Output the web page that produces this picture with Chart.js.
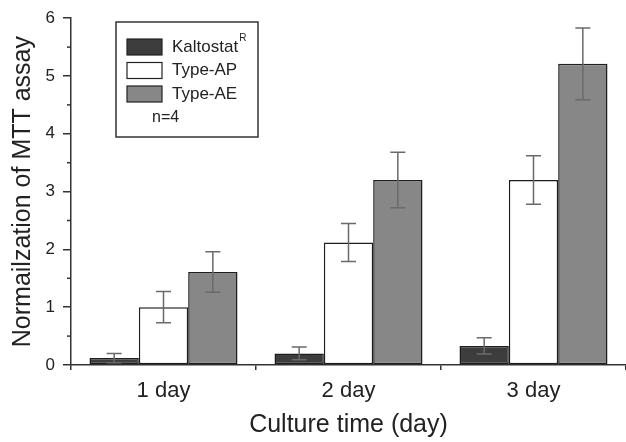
<!DOCTYPE html>
<html>
<head>
<meta charset="utf-8">
<script src="https://cdn.jsdelivr.net/npm/chart.js@4.4.1/dist/chart.umd.min.js"></script>
<style>
  html, body { margin: 0; padding: 0; background: #fff; }
  #wrap { width: 626px; height: 442px; position: relative; }
</style>
</head>
<body>
<div id="wrap"><canvas id="myChart"></canvas></div>
<script>
const dias = ['1 day', '2 day', '3 day'];
const kaltostat = [0.12, 0.20, 0.33];
const kaltostatErr = [0.08, 0.11, 0.14];
const typeAP = [1.00, 2.12, 3.20];
const typeAPErr = [0.27, 0.33, 0.42];
const typeAE = [1.61, 3.20, 5.21];
const typeAEErr = [0.35, 0.48, 0.62];
const yMinorTicks = [0.5, 1.5, 2.5, 3.5, 4.5, 5.5];

const textColor = '#222';
const axisColor = '#333';
const fuente = '"Liberation Sans", Arial, sans-serif';

// barras de error sobre cada barra
const errorBars = {
    id: 'errorBars',
    afterDatasetsDraw(chart) {
        const ctx = chart.ctx;
        const yScale = chart.scales.y;
        ctx.save();
        ctx.strokeStyle = '#6a6a6a';
        ctx.lineWidth = 1.5;
        chart.data.datasets.forEach((ds, i) => {
            const meta = chart.getDatasetMeta(i);
            meta.data.forEach((bar, j) => {
                const v = ds.data[j];
                const e = ds.errores[j];
                const top = yScale.getPixelForValue(v + e);
                const bot = yScale.getPixelForValue(v - e);
                const x = bar.x;
                ctx.beginPath();
                ctx.moveTo(x, top); ctx.lineTo(x, bot);
                ctx.moveTo(x - 7.5, top); ctx.lineTo(x + 7.5, top);
                ctx.moveTo(x - 7.5, bot); ctx.lineTo(x + 7.5, bot);
                ctx.stroke();
            });
        });
        // ticks menores del eje y
        ctx.strokeStyle = axisColor;
        const left = chart.chartArea.left;
        yMinorTicks.forEach(t => {
            const y = yScale.getPixelForValue(t);
            ctx.beginPath();
            ctx.moveTo(left - 4, y);
            ctx.lineTo(left, y);
            ctx.stroke();
        });
        ctx.restore();
    }
};

// leyenda en recuadro como en la figura original
const legendBox = {
    id: 'legendBox',
    afterDraw(chart) {
        const ctx = chart.ctx;
        ctx.save();
        ctx.strokeStyle = axisColor;
        ctx.lineWidth = 1.5;
        ctx.strokeRect(116, 22, 142, 115);
        chart.data.datasets.forEach((ds, i) => {
            const cy = 47 + i * 23.5;
            ctx.fillStyle = ds.backgroundColor;
            ctx.fillRect(127, cy - 8, 35, 16);
            ctx.strokeStyle = '#222';
            ctx.lineWidth = 1.2;
            ctx.strokeRect(127, cy - 8, 35, 16);
            ctx.fillStyle = textColor;
            ctx.font = '17px ' + fuente;
            ctx.textBaseline = 'middle';
            ctx.textAlign = 'left';
            ctx.fillText(ds.label, 172, cy);
            if (i === 0) {
                const w = ctx.measureText(ds.label).width;
                ctx.font = '10px ' + fuente;
                ctx.fillText('R', 172 + w + 1, cy - 9);
            }
        });
        ctx.font = '16px ' + fuente;
        ctx.textBaseline = 'middle';
        ctx.fillText('n=4', 152, 118);
        ctx.restore();
    }
};

const ctx = document.getElementById('myChart').getContext('2d');
const myChart = new Chart(ctx, {
    type: 'bar',
    data: {
        labels: dias,
        datasets: [
            { label: 'Kaltostat', data: kaltostat, errores: kaltostatErr, backgroundColor: '#3d3d3d' },
            { label: 'Type-AP', data: typeAP, errores: typeAPErr, backgroundColor: '#ffffff' },
            { label: 'Type-AE', data: typeAE, errores: typeAEErr, backgroundColor: '#878787' }
        ].map(d => Object.assign(d, {
            borderColor: '#1e1e1e',
            borderWidth: 1.5,
            borderSkipped: false,
            categoryPercentage: 0.8,
            barPercentage: 1.0
        }))
    },
    options: {
        responsive: true,
        maintainAspectRatio: false,
        animation: false,
        layout: { padding: { top: 4, right: 0, left: 0, bottom: 0 } },
        plugins: {
            legend: { display: false },
            tooltip: { enabled: false }
        },
        scales: {
            x: {
                afterFit: s => { s.height = 77; },
                border: { color: axisColor, width: 1.5 },
                grid: { display: true, offset: true, drawOnChartArea: false, tickLength: 5, color: axisColor, lineWidth: 1.5 },
                ticks: { color: textColor, padding: 8, font: { size: 22, family: fuente } },
                title: {
                    display: true,
                    text: 'Culture time (day)',
                    color: textColor,
                    padding: { top: 0, bottom: 2 },
                    font: { size: 25, family: fuente }
                }
            },
            y: {
                min: 0,
                max: 6,
                afterFit: s => { s.width = 71; },
                border: { color: axisColor, width: 1.5 },
                grid: { drawOnChartArea: false, tickLength: 8, color: axisColor, lineWidth: 1.5 },
                ticks: {
                    stepSize: 1,
                    color: textColor,
                    padding: 8,
                    font: { size: 17, family: fuente }
                },
                title: {
                    display: true,
                    text: 'Normailzation of MTT assay',
                    color: textColor,
                    padding: { top: 8, bottom: 0 },
                    font: { size: 25, family: fuente }
                }
            }
        }
    },
    plugins: [errorBars, legendBox]
});
</script>
</body>
</html>
